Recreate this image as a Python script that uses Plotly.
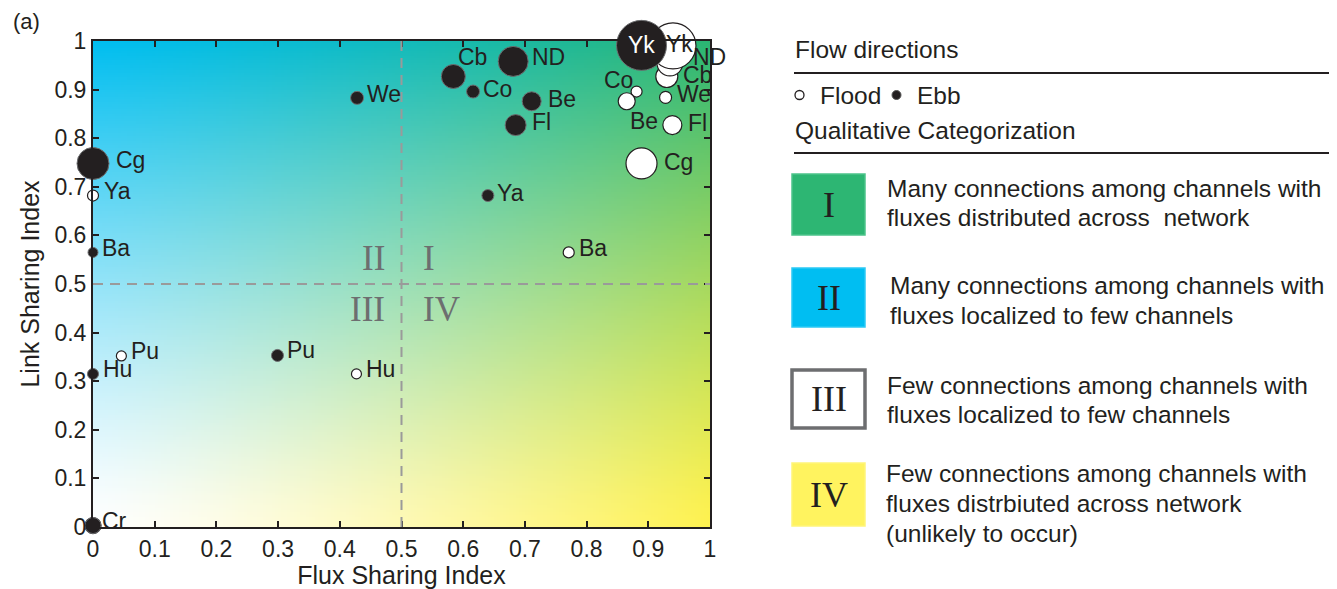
import numpy as np
import plotly.graph_objects as go

# ---------------- data ----------------
ebb_sites = ["Cr", "Ba", "Hu", "Pu", "Ya", "We", "Co", "Be", "Fl", "Cb", "Cg", "ND", "Yk"]
ebb_flux = [0.0, 0.0, 0.0, 0.299, 0.640, 0.428, 0.616, 0.711, 0.685, 0.584, 0.0, 0.681, 0.889]
ebb_link = [0.003, 0.565, 0.315, 0.353, 0.682, 0.883, 0.896, 0.876, 0.827, 0.927, 0.748, 0.958, 0.991]
ebb_size = [16, 10, 11, 12, 12, 13, 13, 19, 21, 24, 32, 30, 50]

flood_sites = ["Cr", "Ya", "Pu", "Hu", "Ba", "Co", "We", "Be", "Fl", "Cg", "Cb", "ND", "Yk"]
flood_flux = [0.0, 0.0, 0.046, 0.427, 0.771, 0.881, 0.928, 0.865, 0.939, 0.889, 0.930, 0.935, 0.940]
flood_link = [0.003, 0.682, 0.352, 0.315, 0.565, 0.896, 0.884, 0.876, 0.827, 0.748, 0.927, 0.955, 0.990]
flood_size = [16, 11, 10, 10, 11, 11, 12, 17, 19, 31, 22, 26, 46]

x_ticks = [0, 0.1, 0.2, 0.3, 0.4, 0.5, 0.6, 0.7, 0.8, 0.9, 1]
x_tick_text = ["0", "0.1", "0.2", "0.3", "0.4", "0.5", "0.6", "0.7", "0.8", "0.9", "1"]
y_ticks = [0, 0.1, 0.2, 0.3, 0.4, 0.5, 0.6, 0.7, 0.8, 0.9, 1]
y_tick_text = ["0", "0.1", "0.2", "0.3", "0.4", "0.5", "0.6", "0.7", "0.8", "0.9", "1"]

categories = ["I", "II", "III", "IV"]
category_text = [
    ["Many connections among channels with", "fluxes distributed across  network"],
    ["Many connections among channels with", "fluxes localized to few channels"],
    ["Few connections among channels with", "fluxes localized to few channels"],
    ["Few connections among channels with", "fluxes distrbiuted across network", "(unlikely to occur)"],
]

# ---------------- styling ----------------
INK = "#231F20"
SANS = "Liberation Sans, Arial, sans-serif"
SERIF = "Liberation Serif, Times New Roman, serif"
VW, VH = 1337, 589          # browser window
OX, OY = 8, 8               # page body margin
W, H = VW - OX, VH - OY
PL, PR, PT, PB = 93, 710, 41, 527   # plot area in window pixels


def px(x):
    return (x - PL) / (PR - PL)


def py(y):
    return (PB - y) / (PB - PT)


LAB = 23
KEY = 24.5

# label offsets (pixels): xshift, yshift, xanchor
ebb_lab = {
    "Cr": (7, 5, "left"), "Ba": (7, 4, "left"), "Hu": (8, 5, "left"), "Pu": (8, 5, "left"),
    "Ya": (7, 3, "left"), "We": (8, 4, "left"), "Co": (8, 3, "left"), "Be": (14, 2, "left"),
    "Fl": (14, 3, "left"), "Cb": (3, 19, "left"), "Cg": (21, 3, "left"), "ND": (17, 4, "left"),
    "Yk": (0, 0, "center"),
}
flood_lab = {
    "Ya": (9, 5, "left"), "Pu": (8, 5, "left"), "Hu": (8, 5, "left"), "Ba": (8, 4, "left"),
    "Co": (-2, 12, "right"), "We": (9, 3, "left"), "Be": (17, -20, "center"), "Fl": (14, 2, "left"),
    "Cg": (20, 1, "left"), "Cb": (14, 1, "left"), "ND": (21, 6, "left"), "Yk": (7, 2, "center"),
}

fig = go.Figure()

# background gradient (blend between corner colours)
N = 200
c_bl = np.array([255, 255, 255])
c_br = np.array([255, 242, 80])
c_tl = np.array([0, 190, 240])
c_tr = np.array([43, 182, 115])
u = (np.arange(N) + 0.5) / N
U, V = np.meshgrid(u, u)
U = U ** 1.25
V = V ** 1.25
img = (c_bl[None, None, :] * ((1 - U) * (1 - V))[..., None]
       + c_br[None, None, :] * (U * (1 - V))[..., None]
       + c_tl[None, None, :] * ((1 - U) * V)[..., None]
       + c_tr[None, None, :] * (U * V)[..., None])
img = np.clip(img, 0, 255).astype(np.uint8)
fig.add_trace(go.Image(z=img, x0=0.5 / N, dx=1.0 / N, y0=0.5 / N, dy=1.0 / N,
                       hoverinfo="skip", zsmooth="fast"))

fig.add_trace(go.Scatter(
    x=flood_flux, y=flood_link, mode="markers", cliponaxis=False, hoverinfo="skip",
    marker=dict(size=flood_size, color="white", line=dict(color=INK, width=1.2), opacity=1),
    showlegend=False))
fig.add_trace(go.Scatter(
    x=ebb_flux, y=ebb_link, mode="markers", cliponaxis=False, hoverinfo="skip",
    marker=dict(size=ebb_size, color=INK, line=dict(color="#6D6E70", width=1), opacity=1),
    showlegend=False))

annotations = []
for name, xv, yv in zip(flood_sites, flood_flux, flood_link):
    if name not in flood_lab:
        continue
    dx, dy, anc = flood_lab[name]
    annotations.append(dict(x=xv, y=yv, xref="x", yref="y", text=name, showarrow=False,
                            xanchor=anc, yanchor="middle", xshift=dx, yshift=dy,
                            font=dict(family=SANS, size=LAB, color=INK)))
for name, xv, yv in zip(ebb_sites, ebb_flux, ebb_link):
    dx, dy, anc = ebb_lab[name]
    col = "white" if name == "Yk" else INK
    annotations.append(dict(x=xv, y=yv, xref="x", yref="y", text=name, showarrow=False,
                            xanchor=anc, yanchor="middle", xshift=dx, yshift=dy,
                            font=dict(family=SANS, size=LAB, color=col)))

# quadrant labels
GRAY = "#6D6E70"
for txt, xv, yv, anc in [("II", 0.476, 0.553, "right"), ("I", 0.532, 0.553, "left"),
                         ("III", 0.476, 0.447, "right"), ("IV", 0.532, 0.447, "left")]:
    annotations.append(dict(x=xv, y=yv, xref="x", yref="y", text=txt, showarrow=False,
                            xanchor=anc, yanchor="middle",
                            font=dict(family=SERIF, size=35, color=GRAY)))

# panel label
annotations.append(dict(x=px(26), y=py(22), xref="paper", yref="paper", text="(a)",
                        showarrow=False, xanchor="center", yanchor="middle",
                        font=dict(family=SANS, size=22, color=INK)))


# right-hand key
def key_text(txt, x, y, size=KEY, anchor="left", family=SANS):
    annotations.append(dict(x=px(x), y=py(y), xref="paper", yref="paper", text=txt,
                            showarrow=False, xanchor=anchor, yanchor="middle",
                            font=dict(family=family, size=size, color=INK)))


key_text("Flow directions", 793, 50)
key_text("Flood", 818, 95)
key_text("Ebb", 915, 95)
key_text("Qualitative Categorization", 793, 130)

shapes = [
    dict(type="line", xref="x", yref="y", x0=0.5, x1=0.5, y0=0, y1=1,
         line=dict(color="#9A9A9A", width=2, dash="10px,7px"), layer="above"),
    dict(type="line", xref="x", yref="y", x0=0, x1=1, y0=0.5, y1=0.5,
         line=dict(color="#9A9A9A", width=2, dash="10px,7px"), layer="above"),
    dict(type="line", xref="paper", yref="paper", x0=px(794), x1=px(1340), y0=py(73), y1=py(73),
         line=dict(color=INK, width=2)),
    dict(type="line", xref="paper", yref="paper", x0=px(794), x1=px(1340), y0=py(153), y1=py(153),
         line=dict(color=INK, width=2)),
    dict(type="circle", xref="paper", yref="paper", x0=px(795), x1=px(804), y0=py(90.5), y1=py(99.5),
         line=dict(color=INK, width=1.3), fillcolor="white"),
    dict(type="circle", xref="paper", yref="paper", x0=px(892), x1=px(901), y0=py(90.5), y1=py(99.5),
         line=dict(color="#555", width=1), fillcolor=INK),
]

box_fill = ["#2DB673", "#00BEF2", "white", "#FFF35F"]
box_line = ["#4CC38A", "#2BC9F5", "#6D6E70", "#FFF579"]
box_lw = [1.5, 1.5, 3.5, 1.5]
box_top = [174, 268, 370, 463]
box_bot = [235, 327, 428, 526]
text_x = [885, 888, 885, 884]
text_y0 = [188, 285, 385, 473]
for i, cat in enumerate(categories):
    shapes.append(dict(type="rect", xref="paper", yref="paper", x0=px(792), x1=px(865),
                       y0=py(box_bot[i]), y1=py(box_top[i]),
                       line=dict(color=box_line[i], width=box_lw[i]), fillcolor=box_fill[i]))
    key_text(cat, 828.5, (box_top[i] + box_bot[i]) / 2, size=36, anchor="center", family=SERIF)
    for j, line in enumerate(category_text[i]):
        key_text(line, text_x[i], text_y0[i] + 30 * j)

axis_common = dict(showgrid=False, zeroline=False, showline=True, linecolor=INK, linewidth=2,
                   mirror="ticks", ticks="inside", ticklen=6, tickwidth=1.5, tickcolor=INK,
                   tickfont=dict(family=SANS, size=LAB, color=INK), range=[0, 1])

fig.update_layout(
    width=W, height=H,
    margin=dict(l=PL - OX, r=VW - PR, t=PT - OY, b=VH - PB, autoexpand=False),
    paper_bgcolor="white", plot_bgcolor="white",
    xaxis=dict(**axis_common, tickvals=x_ticks, ticktext=x_tick_text, constrain="range",
               title=dict(text="Flux Sharing Index", font=dict(family=SANS, size=25, color=INK),
                          standoff=8)),
    yaxis=dict(**axis_common, tickvals=y_ticks, ticktext=y_tick_text, scaleanchor=False,
               constrain="range", autorange=False,
               title=dict(text="Link Sharing Index", font=dict(family=SANS, size=25, color=INK),
                          standoff=8)),
    annotations=annotations,
    shapes=shapes,
    showlegend=False,
)

fig.write_html("out.html")
